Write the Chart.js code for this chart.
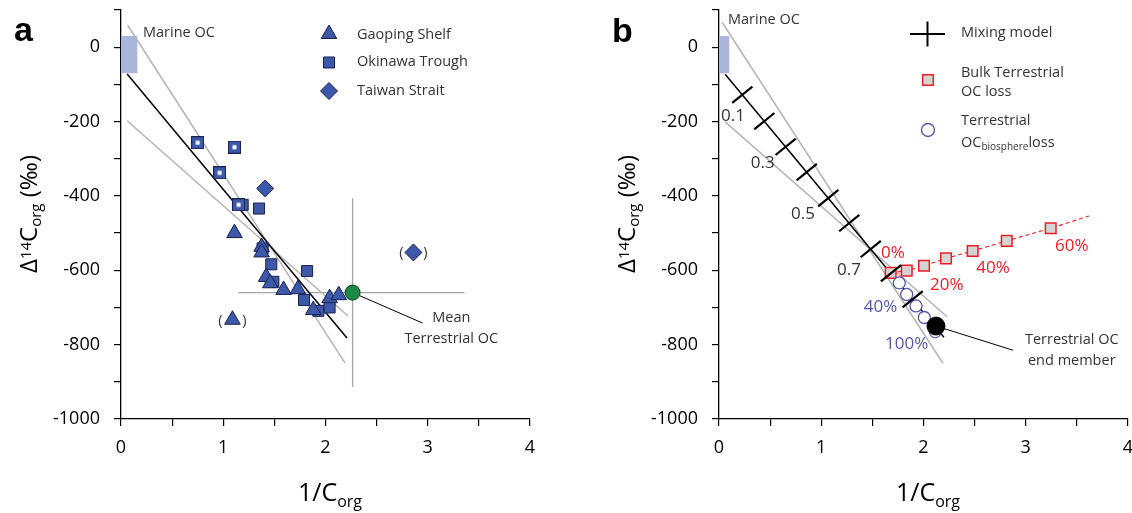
<!DOCTYPE html>
<html><head><meta charset="utf-8">
<script src="https://cdn.jsdelivr.net/npm/chart.js@4.4.1/dist/chart.umd.min.js"></script>
<style>
html,body{margin:0;padding:0;background:#fff;}
#wrap{position:relative;width:1132px;height:513px;overflow:hidden;background:#fff;}
canvas{position:absolute;top:-40px;}
#ca{left:-40px;} #cb{left:526px;}
</style></head><body>
<div id="wrap"><canvas id="ca" width="646" height="593"></canvas><canvas id="cb" width="646" height="593"></canvas></div>
<script>
// ---------------- DATA ----------------
const xTickLabels = [0, 1, 2, 3, 4];
const yTickLabels = [0, -200, -400, -600, -800, -1000];

// Panel a
const gaopingX = [1.11, 1.375, 1.375, 1.42, 1.46, 1.59, 1.73, 1.88, 2.04, 2.13, 1.09];
const gaopingY = [-500, -537, -552, -618, -635, -653, -651, -707, -675, -667, -733];
const okinawaX = [1.19, 1.35, 1.385, 1.47, 1.82, 1.49, 1.79, 1.93, 2.04];
const okinawaY = [-424, -434, -541, -584, -602, -631, -680, -709, -700];
const okinawaOpenX = [0.75, 1.11, 0.965, 1.15];
const okinawaOpenY = [-257, -269, -338, -424];
const taiwanX = [1.41, 2.86];
const taiwanY = [-380, -552];
const meanTerrX = [2.265];
const meanTerrY = [-660];
const regressionX = [0.06, 2.21];
const regressionY = [-72, -782];
const boundA1X = [0.065, 2.19];
const boundA1Y = [59, -849];
const boundA2X = [0.06, 2.22];
const boundA2Y = [-198, -723];
const crossVX = [2.265, 2.265];
const crossVY = [-406, -914];
const crossHX = [1.15, 3.36];
const crossHY = [-660, -660];
const leaderAX = [2.265, 2.95];
const leaderAY = [-660, -742];
const marineBoxAX = [0, 0.16];
const marineBoxAY = [30, -70];

// Panel b
const mixLineX = [0.06, 2.2];
const mixLineY = [-73, -780];
const mixTickX = [0.228, 0.443, 0.652, 0.858, 1.069, 1.274, 1.484, 1.682, 1.894];
const mixTickY = [-128, -199, -268, -336, -406, -473, -543, -608, -678];
const mixTickLabels = ['0.1', '0.3', '0.5', '0.7'];
const mixTickLabelX = [0.137, 0.428, 0.821, 1.271];
const mixTickLabelY = [-185, -312, -449, -599];
const boundB1X = [0.03, 2.19];
const boundB1Y = [67, -850];
const boundB2X = [0.06, 2.23];
const boundB2Y = [-201, -725];
const bulkLossX = [1.679, 1.836, 2.005, 2.22, 2.481, 2.814, 3.244];
const bulkLossY = [-607, -601, -588, -568, -548, -521, -487];
const bulkTrendEndX = [3.619];
const bulkTrendEndY = [-454];
const bulkLabels = ['0%', '20%', '40%', '60%'];
const bulkLabelX = [1.70, 2.227, 2.68, 3.45];
const bulkLabelY = [-554, -640, -594, -535];
const bioLossX = [1.763, 1.836, 1.927, 2.008, 2.115];
const bioLossY = [-634, -665, -696, -727, -765];
const bioLabels = ['40%', '100%'];
const bioLabelX = [1.58, 1.836];
const bioLabelY = [-698, -798];
const endMemberX = [2.122];
const endMemberY = [-750];
const leaderBX = [2.122, 2.875];
const leaderBY = [-750, -815];
const marineBoxBX = [0, 0.1];
const marineBoxBY = [30, -70];

// ---------------- STYLE ----------------
const FONT = "'Open Sans', 'Noto Sans', sans-serif";
const BLUE = '#3c58a8', EDGE = '#1a2150', RED = '#ed1c24', SLATE = '#5558a8', GRAY = '#b4b4b4', TXT = '#333';
const MARINE = '#a9b5dd';

function pts(xs, ys) { return xs.map((x, i) => ({ x: x, y: ys[i] })); }

function hollowSquare() {
  const c = document.createElement('canvas'); c.width = 13; c.height = 13;
  const g = c.getContext('2d');
  g.fillStyle = BLUE; g.fillRect(0.5, 0.5, 12, 12);
  g.strokeStyle = EDGE; g.lineWidth = 1; g.strokeRect(0.5, 0.5, 12, 12);
  g.fillStyle = '#fff'; g.fillRect(4.5, 4.5, 4, 4);
  return c;
}

function lineDs(xs, ys, color, width, order, dash) {
  return { data: pts(xs, ys), showLine: true, borderColor: color, borderWidth: width, pointRadius: 0,
           fill: false, order: order, borderDash: dash || [], tension: 0 };
}
function ptDs(xs, ys, style, r, fillC, edgeC, bw, order, rot) {
  return { data: pts(xs, ys), showLine: false, pointStyle: style, pointRadius: r, pointBackgroundColor: fillC,
           pointBorderColor: edgeC, pointBorderWidth: bw, order: order, pointRotation: rot || 0 };
}

// ---------------- DECORATION ----------------
function rich(ctx, parts, x, y, align, rot, color) {
  ctx.save(); ctx.translate(x, y); if (rot) ctx.rotate(rot);
  let total = 0;
  parts.forEach(p => { ctx.font = (p.b ? 'bold ' : '') + p.s + 'px ' + (p.f || FONT); p.w = ctx.measureText(p.t).width; total += p.w; });
  let cx = align === 'center' ? -total / 2 : (align === 'right' ? -total : 0);
  ctx.textAlign = 'left'; ctx.textBaseline = 'alphabetic';
  parts.forEach(p => {
    ctx.font = (p.b ? 'bold ' : '') + p.s + 'px ' + (p.f || FONT);
    ctx.fillStyle = p.c || color || '#000';
    ctx.fillText(p.t, cx, p.dy || 0); cx += p.w;
  });
  ctx.restore();
}
function mark(ctx, kind, x, y, r, fillC, edgeC, bw) {
  ctx.save(); ctx.beginPath();
  if (kind === 'triangle') { ctx.moveTo(x, y - r); ctx.lineTo(x + r * 0.866, y + r / 2); ctx.lineTo(x - r * 0.866, y + r / 2); ctx.closePath(); }
  else if (kind === 'rect') { const s = r * Math.SQRT1_2; ctx.rect(x - s, y - s, 2 * s, 2 * s); }
  else if (kind === 'rectRot') { ctx.moveTo(x - r, y); ctx.lineTo(x, y - r); ctx.lineTo(x + r, y); ctx.lineTo(x, y + r); ctx.closePath(); }
  else { ctx.arc(x, y, r, 0, Math.PI * 2); }
  ctx.fillStyle = fillC; ctx.fill();
  ctx.strokeStyle = edgeC; ctx.lineWidth = bw; ctx.stroke();
  ctx.restore();
}

const deco = {};
const decoPlugin = {
  id: 'deco',
  beforeDatasetsDraw(chart) {
    const d = deco[chart.canvas.id]; if (!d) return;
    const ctx = chart.ctx, xs = chart.scales.x, ys = chart.scales.y;
    d.boxes.forEach(b => {
      const x0 = xs.getPixelForValue(b.x[0]), x1 = xs.getPixelForValue(b.x[1]);
      const y0 = ys.getPixelForValue(b.y[0]), y1 = ys.getPixelForValue(b.y[1]);
      ctx.save(); ctx.fillStyle = b.color; ctx.fillRect(x0, y0, x1 - x0, y1 - y0); ctx.restore();
    });
  },
  afterDraw(chart) {
    const d = deco[chart.canvas.id]; if (!d) return;
    const ctx = chart.ctx, xs = chart.scales.x, ys = chart.scales.y;
    const ox = d.off[0], oy = d.off[1];
    ctx.save();
    d.dataTexts.forEach(t => {
      ctx.font = (t.size || 14.5) + 'px ' + FONT; ctx.fillStyle = t.color || TXT;
      ctx.textAlign = t.align || 'center'; ctx.textBaseline = 'middle';
      ctx.fillText(t.t, xs.getPixelForValue(t.x) + (t.dx || 0), ys.getPixelForValue(t.y) + (t.dy || 0));
    });
    d.absTexts.forEach(t => {
      ctx.font = (t.bold ? 'bold ' : '') + t.size + 'px ' + (t.font || FONT); ctx.fillStyle = t.color || TXT;
      ctx.textAlign = t.align || 'left'; ctx.textBaseline = t.base || 'middle';
      ctx.fillText(t.t, t.x + ox, t.y + oy);
    });
    d.rich.forEach(r => rich(ctx, r.parts, r.x + ox, r.y + oy, r.align, r.rot, r.color));
    d.marks.forEach(m => {
      if (m.kind === 'plus') {
        ctx.save(); ctx.strokeStyle = '#000'; ctx.lineWidth = 2; ctx.beginPath();
        ctx.moveTo(m.x + ox - 17.5, m.y + oy); ctx.lineTo(m.x + ox + 17.5, m.y + oy);
        ctx.moveTo(m.x + ox, m.y + oy - 12.5); ctx.lineTo(m.x + ox, m.y + oy + 12.5);
        ctx.stroke(); ctx.restore();
      } else mark(ctx, m.kind, m.x + ox, m.y + oy, m.r, m.fill, m.edge, m.bw);
    });
    ctx.restore();
  }
};

function axisTitles(dx) {
  return [
    { parts: [{ t: 'Δ', s: 24 }, { t: '14', s: 15, dy: -6 }, { t: 'C', s: 24 }, { t: 'org', s: 15, dy: 4 }, { t: ' (‰)', s: 24 }],
      x: 37 + dx, y: 214, align: 'center', rot: -Math.PI / 2, color: '#000' },
    { parts: [{ t: '1/C', s: 25 }, { t: 'org', s: 16, dy: 6 }], x: 298 + dx, y: 501, align: 'left', color: '#000' }
  ];
}

deco.ca = {
  off: [40, 40],
  boxes: [{ x: marineBoxAX, y: marineBoxAY, color: MARINE }],
  dataTexts: [
    { t: 'Marine OC', x: 0.215, y: 38, align: 'left' },
    { t: 'Mean', x: 3.23, y: -728 },
    { t: 'Terrestrial OC', x: 3.23, y: -785 },
    { t: '(', x: gaopingX[10], y: gaopingY[10], dx: -12, dy: 1 },
    { t: ')', x: gaopingX[10], y: gaopingY[10], dx: 12, dy: 1 },
    { t: '(', x: taiwanX[1], y: taiwanY[1], dx: -12 },
    { t: ')', x: taiwanX[1], y: taiwanY[1], dx: 12 }
  ],
  absTexts: [
    { t: 'a', x: 14, y: 41, size: 34, bold: true, font: "'Liberation Sans', Arial, sans-serif", color: '#000', base: 'alphabetic' },
    { t: 'Gaoping Shelf', x: 357, y: 35, size: 14.5 },
    { t: 'Okinawa Trough', x: 357, y: 62, size: 14.5 },
    { t: 'Taiwan Strait', x: 357, y: 91, size: 14.5 }
  ],
  rich: axisTitles(0),
  marks: [
    { kind: 'triangle', x: 329, y: 34, r: 9, fill: BLUE, edge: EDGE, bw: 1 },
    { kind: 'rect', x: 329, y: 62.5, r: 7.8, fill: BLUE, edge: EDGE, bw: 1 },
    { kind: 'rectRot', x: 329, y: 91, r: 8.5, fill: BLUE, edge: EDGE, bw: 1 }
  ]
};

const dataTextsB = [{ t: 'Marine OC', x: 0.088, y: 73, align: 'left' },
  { t: 'Terrestrial OC', x: 3.45, y: -788 }, { t: 'end member', x: 3.45, y: -844 }];
mixTickLabels.forEach((t, i) => dataTextsB.push({ t: t, x: mixTickLabelX[i], y: mixTickLabelY[i], size: 17 }));
bulkLabels.forEach((t, i) => dataTextsB.push({ t: t, x: bulkLabelX[i], y: bulkLabelY[i], size: 17, color: RED }));
bioLabels.forEach((t, i) => dataTextsB.push({ t: t, x: bioLabelX[i], y: bioLabelY[i], size: 17, color: SLATE }));

deco.cb = {
  off: [-526, 40],
  boxes: [{ x: marineBoxBX, y: marineBoxBY, color: MARINE }],
  dataTexts: dataTextsB,
  absTexts: [
    { t: 'b', x: 612, y: 42, size: 34, bold: true, font: "'Liberation Sans', Arial, sans-serif", color: '#000', base: 'alphabetic' },
    { t: 'Mixing model', x: 961, y: 33, size: 14.5 },
    { t: 'Bulk Terrestrial', x: 961, y: 73, size: 14.5 },
    { t: 'OC loss', x: 961, y: 92, size: 14.5 },
    { t: 'Terrestrial', x: 961, y: 121, size: 14.5 }
  ],
  rich: axisTitles(598).concat([
    { parts: [{ t: 'OC', s: 14.5 }, { t: 'biosphere', s: 10, dy: 3 }, { t: 'loss', s: 14.5 }], x: 961, y: 147, align: 'left', color: TXT }
  ]),
  marks: [
    { kind: 'plus', x: 927.5, y: 34 },
    { kind: 'rect', x: 928, y: 80, r: 7.5, fill: '#d4d4d4', edge: RED, bw: 1.5 },
    { kind: 'circle', x: 928, y: 130, r: 6.5, fill: '#fff', edge: SLATE, bw: 1.4 }
  ]
};

// ---------------- CHARTS ----------------
function makeChart(id, datasets, yWidth, padRight) {
  return new Chart(document.getElementById(id), {
    type: 'scatter',
    data: { datasets: datasets },
    options: {
      responsive: false, animation: false, events: [],
      layout: { padding: { left: 0, right: padRight, top: 50, bottom: 0 } },
      plugins: { legend: { display: false }, tooltip: { enabled: false } },
      scales: {
        x: {
          type: 'linear', min: 0, max: 4,
          afterFit: s => { s.height = 134; },
          ticks: { stepSize: 0.5, autoSkip: false, maxRotation: 0, padding: 11, color: '#000',
                   font: { family: FONT, size: 18 },
                   callback: v => xTickLabels.includes(v) ? String(v) : '' },
          grid: { drawOnChartArea: false, drawTicks: true, tickLength: 7, color: '#000', lineWidth: 1.2 },
          border: { display: true, color: '#000', width: 1.3 }
        },
        y: {
          type: 'linear', min: -1000, max: 100,
          afterFit: s => { s.width = yWidth; },
          ticks: { stepSize: 100, autoSkip: false, padding: 14, color: '#000',
                   font: { family: FONT, size: 18 },
                   callback: v => yTickLabels.includes(v) ? String(v) : '' },
          grid: { drawOnChartArea: false, drawTicks: true, tickLength: 7, color: '#000', lineWidth: 1.2 },
          border: { display: true, color: '#000', width: 1.3 }
        }
      }
    },
    plugins: [decoPlugin]
  });
}

makeChart('ca', [
  lineDs(boundA1X, boundA1Y, GRAY, 1.5, 10),
  lineDs(boundA2X, boundA2Y, GRAY, 1.5, 10),
  lineDs(crossVX, crossVY, '#a5a5a5', 1.3, 10),
  lineDs(crossHX, crossHY, '#a5a5a5', 1.3, 10),
  lineDs(regressionX, regressionY, '#000', 1.5, 9),
  lineDs(leaderAX, leaderAY, '#000', 1, 9),
  ptDs(okinawaX, okinawaY, 'rect', 7.8, BLUE, EDGE, 1, 5),
  ptDs(okinawaOpenX, okinawaOpenY, hollowSquare(), 7, BLUE, EDGE, 1, 4),
  ptDs(gaopingX, gaopingY, 'triangle', 9, BLUE, EDGE, 1, 3),
  ptDs(taiwanX, taiwanY, 'rectRot', 8.5, BLUE, EDGE, 1, 3),
  ptDs(meanTerrX, meanTerrY, 'circle', 7.5, '#1b8a45', '#0d3a1e', 1, 1)
], 161, 76);

makeChart('cb', [
  lineDs(boundB1X, boundB1Y, GRAY, 1.5, 10),
  lineDs(boundB2X, boundB2Y, GRAY, 1.5, 10),
  lineDs(mixLineX, mixLineY, '#000', 1.5, 9),
  lineDs(leaderBX, leaderBY, '#000', 1, 9),
  lineDs(bulkLossX.concat(bulkTrendEndX), bulkLossY.concat(bulkTrendEndY), RED, 1.1, 7, [4, 3]),
  ptDs(bulkLossX, bulkLossY, 'rect', 7.5, '#d4d4d4', RED, 1.5, 5),
  ptDs(bioLossX, bioLossY, 'circle', 6, '#fff', SLATE, 1.3, 4),
  ptDs(mixTickX, mixTickY, 'line', 13, '#000', '#000', 2.2, 2, -39),
  ptDs(endMemberX, endMemberY, 'circle', 9, '#000', '#000', 1, 1)
], 193, 44);
</script>
</body></html>
